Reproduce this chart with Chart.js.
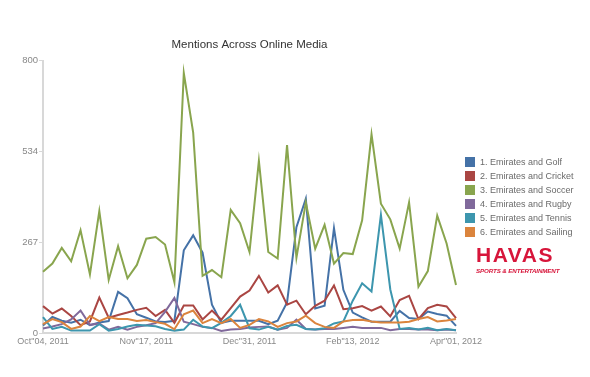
<!DOCTYPE html>
<html lang="en">
<head>
    <meta charset="UTF-8">
    <title>Mentions Across Online Media</title>
    <script src="https://cdn.jsdelivr.net/npm/chart.js"></script>
    <style>
        body {
            margin: 0;
            background: #fff;
            font-family: "Liberation Sans", Arial, sans-serif;
        }
        .wrap {
            position: relative;
            width: 590px;
            height: 377px;
        }
        canvas {
            display: block;
        }
        #legend {
            position: absolute;
            left: 465px;
            top: 155px;
            font-size: 9px;
            color: #6a6a6a;
        }
        #legend div {
            height: 14px;
            line-height: 14px;
            white-space: nowrap;
        }
        #legend span {
            display: inline-block;
            width: 10px;
            height: 10px;
            margin-right: 5px;
            vertical-align: -2px;
        }
        .logo {
            position: absolute;
            left: 476px;
            top: 244px;
            color: #d7153a;
        }
        .logo .big {
            font: bold 21px "Liberation Sans", Arial, sans-serif;
            letter-spacing: 1.5px;
            line-height: 22px;
        }
        .logo .small {
            font: italic bold 6.2px "Liberation Sans", Arial, sans-serif;
            padding-top: 1px;
            letter-spacing: -0.1px;
        }
    </style>
</head>
<body>
    <div class="wrap">
        <canvas id="chart" width="590" height="377"></canvas>
        <div id="legend"></div>
        <div class="logo">
            <div class="big">HAVAS</div>
            <div class="small">SPORTS &amp; ENTERTAINMENT</div>
        </div>
    </div>

    <script>
        // readings every 4 days, Oct 4 2011 -> Apr 1 2012
        const seriesNames = ['1. Emirates and Golf', '2. Emirates and Cricket', '3. Emirates and Soccer',
                             '4. Emirates and Rugby', '5. Emirates and Tennis', '6. Emirates and Sailing'];
        const seriesColors = ['#4572A7', '#AA4643', '#89A54E', '#80699B', '#3D96AE', '#DB843D'];

        const golf = [22, 47, 36, 30, 39, 23, 31, 35, 121, 102, 55, 45, 34, 32, 36, 243, 287, 236, 83, 30,
                      36, 36, 36, 36, 26, 36, 90, 311, 395, 72, 80, 308, 127, 60, 46, 33, 33, 33, 65, 44,
                      41, 63, 56, 51, 21];
        const cricket = [79, 57, 72, 50, 23, 34, 104, 45, 53, 60, 68, 74, 50, 68, 30, 81, 81, 40, 66, 39,
                         73, 107, 125, 168, 119, 140, 83, 95, 55, 80, 95, 140, 70, 73, 79, 66, 78, 49, 97, 109,
                         41, 73, 83, 78, 44];
        const soccer = [180, 204, 250, 211, 302, 172, 358, 156, 255, 161, 200, 277, 282, 260, 149, 764, 589, 168, 185, 164,
                        362, 323, 238, 506, 238, 219, 552, 221, 384, 248, 318, 204, 235, 232, 331, 584, 380, 334, 248, 384,
                        136, 182, 345, 263, 141];
        const rugby = [13, 19, 26, 40, 66, 24, 28, 10, 18, 10, 18, 23, 29, 62, 103, 33, 26, 18, 15, 6,
                       10, 12, 16, 18, 19, 10, 15, 39, 12, 10, 12, 12, 15, 18, 15, 15, 15, 8, 12, 12,
                       10, 10, 8, 10, 8];
        const tennis = [47, 12, 18, 7, 7, 7, 26, 7, 12, 19, 24, 22, 20, 12, 7, 10, 39, 19, 14, 30,
                        50, 83, 14, 10, 18, 10, 21, 24, 12, 10, 14, 28, 34, 95, 146, 122, 347, 128, 12, 15,
                        10, 15, 8, 12, 8];
        const sailing = [26, 41, 32, 12, 19, 50, 35, 47, 41, 41, 35, 38, 32, 27, 11, 55, 66, 29, 41, 29,
                         41, 15, 24, 41, 34, 18, 29, 34, 51, 29, 18, 15, 34, 38, 39, 34, 31, 31, 31, 33,
                         41, 47, 34, 37, 41];

        const tickLabels = ['Oct"04, 2011', 'Nov"17, 2011', 'Dec"31, 2011', 'Feb"13, 2012', 'Apr"01, 2012'];
        const tickIndex = [0, 11, 22, 33, 44];
        const yTicks = [0, 267, 534, 800];

        const allSeries = [golf, cricket, soccer, rugby, tennis, sailing];
        const labels = golf.map((v, i) => {
            const k = tickIndex.indexOf(i);
            return k >= 0 ? tickLabels[k] : '';
        });

        // html legend
        const legend = document.getElementById('legend');
        seriesNames.forEach((name, i) => {
            const row = document.createElement('div');
            row.innerHTML = `<span style="background:${seriesColors[i]}"></span>${name}`;
            legend.appendChild(row);
        });

        const fontFamily = '"Liberation Sans", Arial, sans-serif';

        const ctx = document.getElementById('chart').getContext('2d');
        new Chart(ctx, {
            type: 'line',
            data: {
                labels: labels,
                datasets: allSeries.map((d, i) => ({
                    label: seriesNames[i],
                    data: d,
                    borderColor: seriesColors[i],
                    backgroundColor: seriesColors[i],
                    borderWidth: 2,
                    pointRadius: 0,
                    tension: 0,
                    fill: false
                })).reverse()
            },
            options: {
                responsive: false,
                animation: false,
                layout: {
                    padding: { left: 0, right: 134, top: 0, bottom: 0 }
                },
                plugins: {
                    legend: { display: false },
                    tooltip: { enabled: false },
                    title: {
                        display: true,
                        fullSize: false,
                        text: 'Mentions Across Online Media',
                        color: '#333',
                        font: { family: fontFamily, size: 11.5, weight: 'normal' },
                        padding: { top: 38, bottom: 9 }
                    }
                },
                scales: {
                    x: {
                        offset: false,
                        grid: { display: false, drawTicks: false },
                        border: { display: true, color: '#d8d8d8', width: 2 },
                        ticks: {
                            autoSkip: false,
                            maxRotation: 0,
                            padding: 3,
                            color: '#888',
                            font: { family: fontFamily, size: 9 }
                        },
                        afterFit: s => { s.height = 44; }
                    },
                    y: {
                        min: 0,
                        max: 800,
                        afterBuildTicks: s => { s.ticks = yTicks.map(v => ({ value: v })); },
                        grid: { drawOnChartArea: false, drawTicks: true, tickLength: 4, color: '#d8d8d8' },
                        border: { display: true, color: '#d8d8d8', width: 2 },
                        ticks: {
                            padding: 1,
                            color: '#888',
                            font: { family: fontFamily, size: 9.5 }
                        },
                        afterFit: s => { s.width = 43; }
                    }
                }
            }
        });
    </script>
</body>
</html>
